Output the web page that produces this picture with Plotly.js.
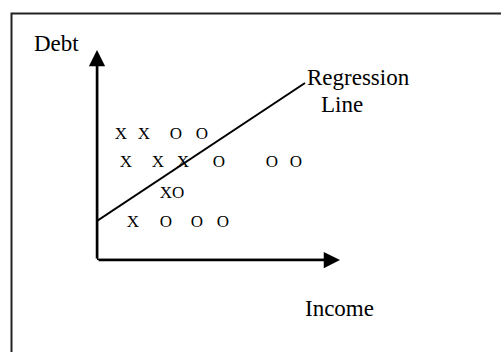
<!DOCTYPE html>
<html>
<head>
<meta charset="utf-8">
<script src="https://cdn.plot.ly/plotly-3.0.1.min.js"></script>
<style>
  html, body { margin: 0; padding: 0; background: #fff; }
</style>
</head>
<body>
<div id="chart" style="width:501px;height:352px;"></div>
<script>
/*  Debt vs income: two groups (x / o) split by a regression line
 *  Units are arbitrary, 1 unit = 25px on screen
 */

/************************** DATA *********************************/
//group "x"
var xGroupIncome = [0.96, 1.88, 1.16, 2.44, 3.44, 1.44];
var xGroupDebt   = [5.0, 5.0, 3.88, 3.88, 3.88, 1.48];
//group "o"
var oGroupIncome = [3.16, 4.2, 4.88, 7.0, 7.96, 2.76, 4.0, 5.04];
var oGroupDebt   = [5.0, 5.0, 3.88, 3.88, 3.88, 1.48, 1.48, 1.48];
//the mixed "xo" point
var mixIncome = [3.0];
var mixDebt   = [2.64];
//regression line end points
var lineIncome = [0, 8.32];
var lineDebt   = [1.56, 7.08];
//axis arrow ends
var axisEndIncome = 9.72;
var axisEndDebt   = 8.4;

/************************** PLOTTING *****************************/
var serif = 'Liberation Serif, Times New Roman, serif';

function markTrace(xs, ys, label) {
  var txt = [];
  for (var i = 0; i < xs.length; i++) {
    txt.push(label);
  }
  return {
    x: xs,
    y: ys,
    mode: 'text',
    type: 'scatter',
    text: txt,
    textposition: 'middle center',
    textfont: {family: serif, size: 17, color: '#000'},
    hoverinfo: 'none'
  };
}

function plotChart() {
  var regression = {
    x: lineIncome,
    y: lineDebt,
    mode: 'lines',
    type: 'scatter',
    line: {color: '#000', width: 2},
    hoverinfo: 'none'
  };
  var data = [
    regression,
    markTrace(xGroupIncome, xGroupDebt, 'X'),
    markTrace(oGroupIncome, oGroupDebt, 'O'),
    markTrace(mixIncome, mixDebt, 'XO')
  ];

  var noAxis = {
    showgrid: false,
    zeroline: false,
    showline: false,
    showticklabels: false,
    ticks: '',
    fixedrange: true
  };

  //axis arrows drawn from the origin
  var arrowStyle = {
    text: '',
    showarrow: true,
    arrowhead: 2,
    arrowsize: 1.3,
    arrowwidth: 2.5,
    arrowcolor: '#000',
    xref: 'x', yref: 'y',
    axref: 'x', ayref: 'y',
    ax: 0, ay: 0
  };
  var upArrow = Object.assign({}, arrowStyle, {x: 0, y: axisEndDebt});
  var rightArrow = Object.assign({}, arrowStyle, {x: axisEndIncome, y: 0});

  //labels sit outside the axis range, so place them in paper units (range is 10 wide)
  function label(txt, x, y) {
    return {
      text: txt, x: x / 10, y: y / 10, xref: 'paper', yref: 'paper',
      showarrow: false,
      xanchor: 'center', yanchor: 'middle',
      font: {family: serif, size: 23, color: '#000'}
    };
  }

  var layout = {
    width: 501,
    height: 352,
    margin: {l: 97, r: 154, t: 10, b: 92},
    paper_bgcolor: '#fff',
    plot_bgcolor: 'rgba(0,0,0,0)',
    showlegend: false,
    xaxis: Object.assign({range: [0, 10]}, noAxis),
    yaxis: Object.assign({range: [0, 10]}, noAxis),
    shapes: [
      //frame round the picture, runs off the right and bottom edges
      {type: 'rect', xref: 'paper', yref: 'paper',
       x0: -0.342, x1: 1.8, y0: -0.6, y1: 0.986,
       line: {color: '#222', width: 2}},
      //axis shafts
      {type: 'line', xref: 'x', yref: 'y', x0: 0, y0: 0, x1: 0, y1: axisEndDebt - 0.3,
       line: {color: '#000', width: 2.5}},
      {type: 'line', xref: 'x', yref: 'y', x0: 0, y0: 0, x1: axisEndIncome - 0.3, y1: 0,
       line: {color: '#000', width: 2.5}}
    ],
    annotations: [
      upArrow,
      rightArrow,
      label('Debt', -1.64, 8.64),
      label('Regression', 10.44, 7.3),
      label('Line', 9.8, 6.24),
      label('Income', 9.68, -1.92)
    ]
  };
  Plotly.newPlot('chart', data, layout, {staticPlot: true, displayModeBar: false});
}

plotChart();
</script>
</body>
</html>
